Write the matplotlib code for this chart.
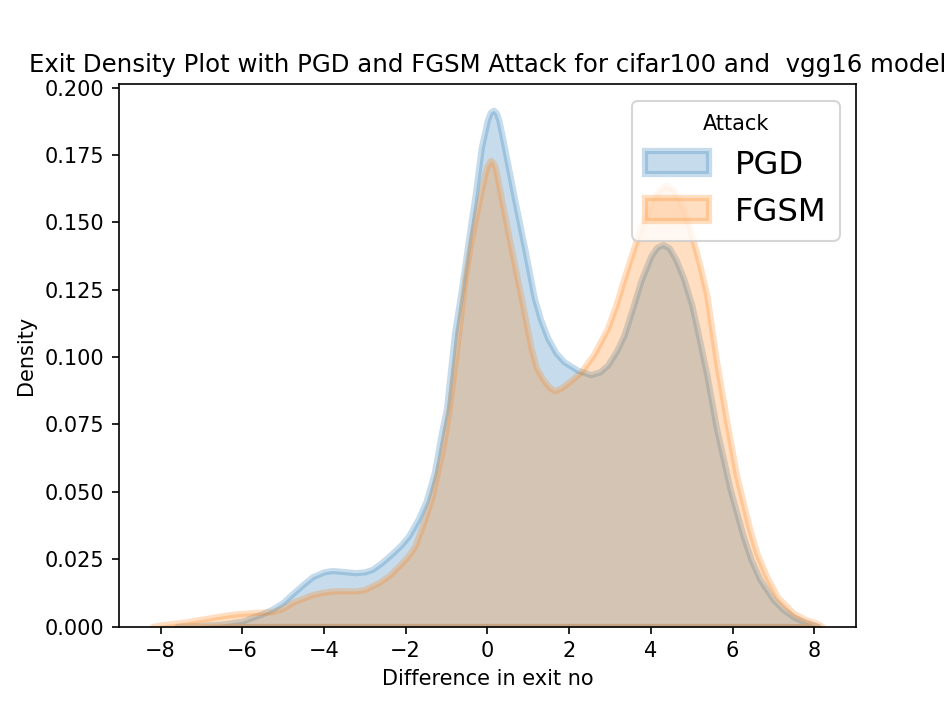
import matplotlib
matplotlib.use("Agg")
import matplotlib.pyplot as plt
from matplotlib.colors import to_rgba
from matplotlib.patches import Patch

# density curves (difference in exit no -> density)
pgd_x = [-7.6, -7.0, -6.5, -6.0, -5.74, -5.5, -5.26, -5.0, -4.77, -4.5, -4.28, -4.0,
         -3.8, -3.5, -3.23, -3.0, -2.82, -2.6, -2.34, -2.1, -1.93, -1.69, -1.5, -1.3,
         -1.12, -1.0, -0.8, -0.63, -0.45, -0.31, -0.15, 0.0, 0.07, 0.15, 0.22, 0.28,
         0.42, 0.66, 0.91, 1.15, 1.3, 1.48, 1.68, 1.88, 2.21, 2.53, 2.75, 2.94, 3.15,
         3.34, 3.55, 3.75, 4.0, 4.15, 4.3, 4.45, 4.62, 4.8, 5.0, 5.13, 5.37, 5.61,
         5.94, 6.26, 6.45, 6.67, 7.0, 7.24, 7.5, 7.72, 8.0, 8.1]
pgd_y = [0.0, 0.0004, 0.0009, 0.0020, 0.0035, 0.0048, 0.0065, 0.0090, 0.0122, 0.0158,
         0.0185, 0.0203, 0.0208, 0.0204, 0.0200, 0.0203, 0.0212, 0.0236, 0.0270,
         0.0305, 0.0336, 0.0400, 0.0465, 0.0570, 0.0722, 0.0810, 0.1094, 0.1256,
         0.1450, 0.1590, 0.1777, 0.1880, 0.1908, 0.1916, 0.1906, 0.1880, 0.1777,
         0.1591, 0.1405, 0.1218, 0.1140, 0.1069, 0.1015, 0.0982, 0.0951, 0.0935,
         0.0945, 0.0970, 0.1020, 0.1080, 0.1180, 0.1280, 0.1375, 0.1408, 0.1418,
         0.1405, 0.1360, 0.1293, 0.1195, 0.1107, 0.0935, 0.0734, 0.0510, 0.0336,
         0.0250, 0.0175, 0.0100, 0.0063, 0.0035, 0.0020, 0.0005, 0.0]

fgsm_x = [-8.2, -7.9, -7.44, -7.0, -6.5, -6.15, -5.74, -5.26, -5.0, -4.77, -4.5, -4.28,
          -4.0, -3.8, -3.5, -3.23, -3.0, -2.66, -2.4, -2.17, -1.95, -1.77, -1.53,
          -1.36, -1.12, -0.96, -0.75, -0.55, -0.39, -0.19, -0.05, 0.0, 0.08, 0.14,
          0.2, 0.34, 0.58, 0.83, 1.07, 1.2, 1.35, 1.5, 1.64, 1.8, 2.0, 2.29, 2.6,
          2.94, 3.15, 3.34, 3.55, 3.75, 4.0, 4.2, 4.38, 4.55, 4.8, 5.04, 5.2, 5.37,
          5.61, 5.86, 6.1, 6.42, 6.6, 6.83, 7.1, 7.48, 7.8, 8.04, 8.2]
fgsm_y = [0.0, 0.0008, 0.0016, 0.0027, 0.0040, 0.0047, 0.0052, 0.0055, 0.0068, 0.0090,
          0.0106, 0.0119, 0.0128, 0.0132, 0.0133, 0.0132, 0.0138, 0.0163, 0.0190,
          0.0225, 0.0260, 0.0300, 0.0400, 0.0480, 0.0640, 0.0780, 0.1030, 0.1290,
          0.1440, 0.1590, 0.1690, 0.1712, 0.1730, 0.1722, 0.1700, 0.1590, 0.1405,
          0.1218, 0.1032, 0.0960, 0.0920, 0.0890, 0.0875, 0.0885, 0.0908, 0.0945,
          0.1010, 0.1107, 0.1195, 0.1290, 0.1390, 0.1480, 0.1570, 0.1620, 0.1638,
          0.1620, 0.1550, 0.1430, 0.1340, 0.1230, 0.0982, 0.0759, 0.0560, 0.0361,
          0.0270, 0.0187, 0.0110, 0.0051, 0.0025, 0.0014, 0.0]

labels = ["PGD", "FGSM"]
colors = ["#1f77b4", "#ff7f0e"]

fig, ax = plt.subplots(figsize=(951 / 150, 704 / 150), dpi=150)

handles = []
for xs, ys, lab, c in zip([pgd_x, fgsm_x], [pgd_y, fgsm_y], labels, colors):
    ax.fill_between(xs, ys, facecolor=to_rgba(c, 0.25), edgecolor=to_rgba(c, 0.25),
                    linewidth=3, joinstyle="round")
    handles.append(Patch(facecolor=to_rgba(c, 0.25), edgecolor=to_rgba(c, 0.25),
                         linewidth=3, label=lab))

ax.set_ylim(bottom=0)
ax.set_xticks([-8, -6, -4, -2, 0, 2, 4, 6, 8])
ax.set_xlabel("Difference in exit no")
ax.set_ylabel("Density")
ax.set_title("Exit Density Plot with PGD and FGSM Attack for cifar100 and  vgg16 model",
             fontsize=11.7)
ax.legend(handles=handles, title="Attack", loc="upper right", fontsize=15.5)

fig.savefig("out.png", dpi=150)
